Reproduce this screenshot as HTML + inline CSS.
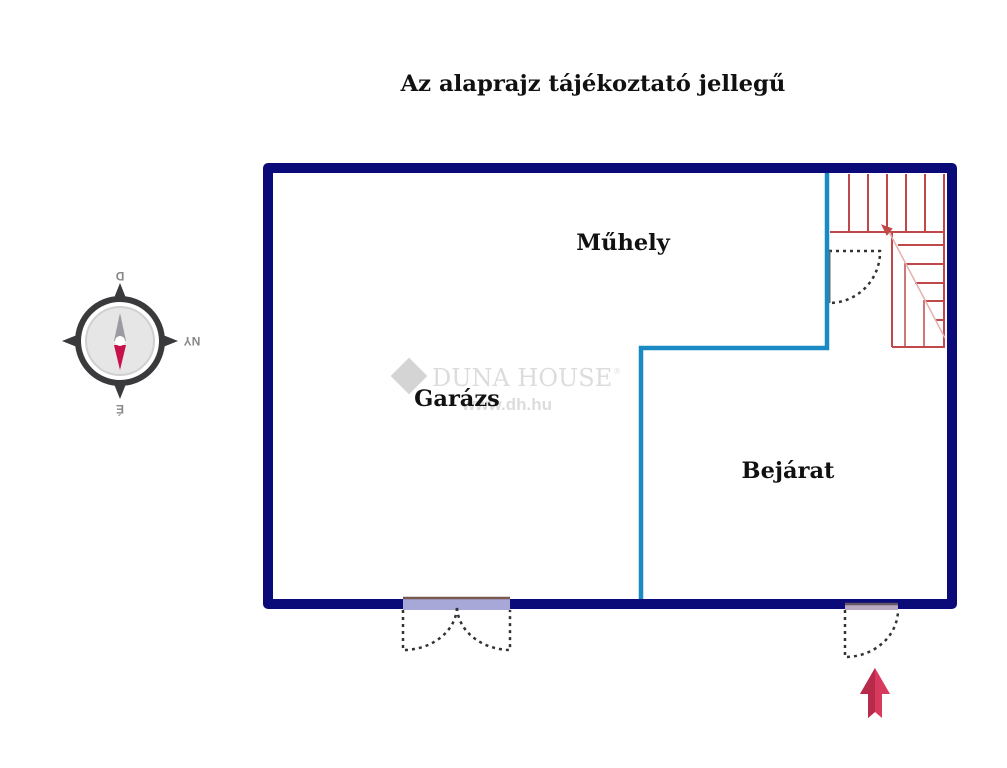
<!DOCTYPE html>
<html><head><meta charset="utf-8"><style>
body{margin:0;background:#fff;}
svg{display:block;font-family:"DejaVu Serif","Liberation Serif",serif;}
</style></head><body>
<svg width="1007" height="768" viewBox="0 0 1007 768">
<text x="593" y="91" font-size="22.7" font-weight="bold" text-anchor="middle" fill="#111">Az alaprajz tájékoztató jellegű</text>
<!-- watermark -->
<g opacity="0.5">
<rect x="396" y="363" width="26" height="26" transform="rotate(45 409 376)" fill="#aaa"/>
<text x="432" y="386" font-size="24" fill="#bbb">DUNA HOUSE</text>
<text x="613" y="374" font-size="8" fill="#bbb">®</text>
<text x="462" y="410" font-size="17" fill="#bbb" font-family="Liberation Sans,sans-serif" font-weight="bold">www.dh.hu</text>
</g>
<!-- stairs -->
<g stroke="#c04848" stroke-width="2" fill="none">
<line x1="830" y1="232" x2="945" y2="232"/>
<line x1="892" y1="232" x2="892" y2="347"/>
<line x1="892" y1="347" x2="945" y2="347"/>
<line x1="849" y1="174" x2="849" y2="232"/><line x1="868" y1="174" x2="868" y2="232"/>
<line x1="887" y1="174" x2="887" y2="232"/><line x1="906" y1="174" x2="906" y2="232"/>
<line x1="925" y1="174" x2="925" y2="232"/><line x1="944" y1="174" x2="944" y2="347"/>
<line x1="898" y1="245" x2="945" y2="245"/><line x1="905" y1="264" x2="945" y2="264"/>
<line x1="915" y1="283" x2="945" y2="283"/><line x1="925" y1="301" x2="945" y2="301"/>
<line x1="935" y1="320" x2="945" y2="320"/>
<line x1="905" y1="263" x2="905" y2="347" stroke-width="1.5"/><line x1="924" y1="300" x2="924" y2="347" stroke-width="1.5"/>
<line x1="887" y1="228" x2="945" y2="338" stroke="#e8b0b0" stroke-width="1.5"/>
<path d="M883 226 l8 3 -4 5z" fill="#c04848"/>
</g>
<!-- inner door -->
<path d="M829 251 H880 A51 51 0 0 1 829 303" fill="none" stroke="#333" stroke-width="2.5" stroke-dasharray="3 4"/>
<line x1="828" y1="251" x2="828" y2="303" stroke="#666" stroke-width="5"/>
<!-- inner walls -->
<path d="M827 172 V348 H641 V600" fill="none" stroke="#1a8ac4" stroke-width="4.5"/>
<!-- outer wall -->
<rect x="268" y="168" width="684" height="436" fill="none" stroke="#0a0a78" stroke-width="10" stroke-linejoin="round"/>
<!-- garage doors -->
<rect x="403" y="598" width="107" height="12" fill="#a8a8d8"/>
<line x1="403" y1="598" x2="510" y2="598" stroke="#7a5a50" stroke-width="2.5"/>
<path d="M403 610 V650 A54 44 0 0 0 457 606 A54 44 0 0 0 510 650 V610" fill="none" stroke="#333" stroke-width="2.5" stroke-dasharray="3 4"/>
<!-- entry door -->
<rect x="845" y="604" width="53" height="6" fill="#b8a8c0"/>
<line x1="845" y1="604" x2="898" y2="604" stroke="#665566" stroke-width="2.5"/>
<path d="M845 610 V657 A53 47 0 0 0 898 610" fill="none" stroke="#333" stroke-width="2.5" stroke-dasharray="3 4"/>
<!-- arrow -->
<path d="M875 668 L890 694 H882 V718 L875 712 L868 718 V694 H860Z" fill="#d83a5e"/>
<path d="M875 668 L860 694 H868 V718 L875 712Z" fill="#b82a4a"/>
<!-- labels -->
<text x="623" y="250" font-size="22.5" font-weight="bold" text-anchor="middle" fill="#111">Műhely</text>
<text x="457" y="406" font-size="22.5" font-weight="bold" text-anchor="middle" fill="#111">Garázs</text>
<text x="788" y="478" font-size="22.5" font-weight="bold" text-anchor="middle" fill="#111">Bejárat</text>
<!-- compass -->
<g>
<path d="M120 283 L128 303 L112 303Z M120 399 L128 379 L112 379Z M62 341 L82 333 L82 349Z M178 341 L158 333 L158 349Z" fill="#3a3a3c"/>
<circle cx="120" cy="341" r="42" fill="#fff" stroke="#3a3a3c" stroke-width="6"/>
<circle cx="120" cy="341" r="34" fill="#e6e6e6" stroke="#d0d0d0" stroke-width="2"/>
<path d="M120 313 L126 341 H114Z" fill="#9a9aa0"/>
<path d="M120 370 L126 345 H114Z" fill="#c8104a"/>
<circle cx="120" cy="341" r="5" fill="#fff"/>
<text transform="translate(120 272) rotate(180)" font-size="12" font-weight="bold" fill="#888" text-anchor="middle" font-family="Liberation Sans,sans-serif">D</text>
<text transform="translate(192 337) rotate(180)" font-size="12" font-weight="bold" fill="#888" text-anchor="middle" font-family="Liberation Sans,sans-serif">NY</text>
<text transform="translate(120 405) rotate(180)" font-size="12" font-weight="bold" fill="#888" text-anchor="middle" font-family="Liberation Sans,sans-serif">É</text>
</g>
</svg>
</body></html>
